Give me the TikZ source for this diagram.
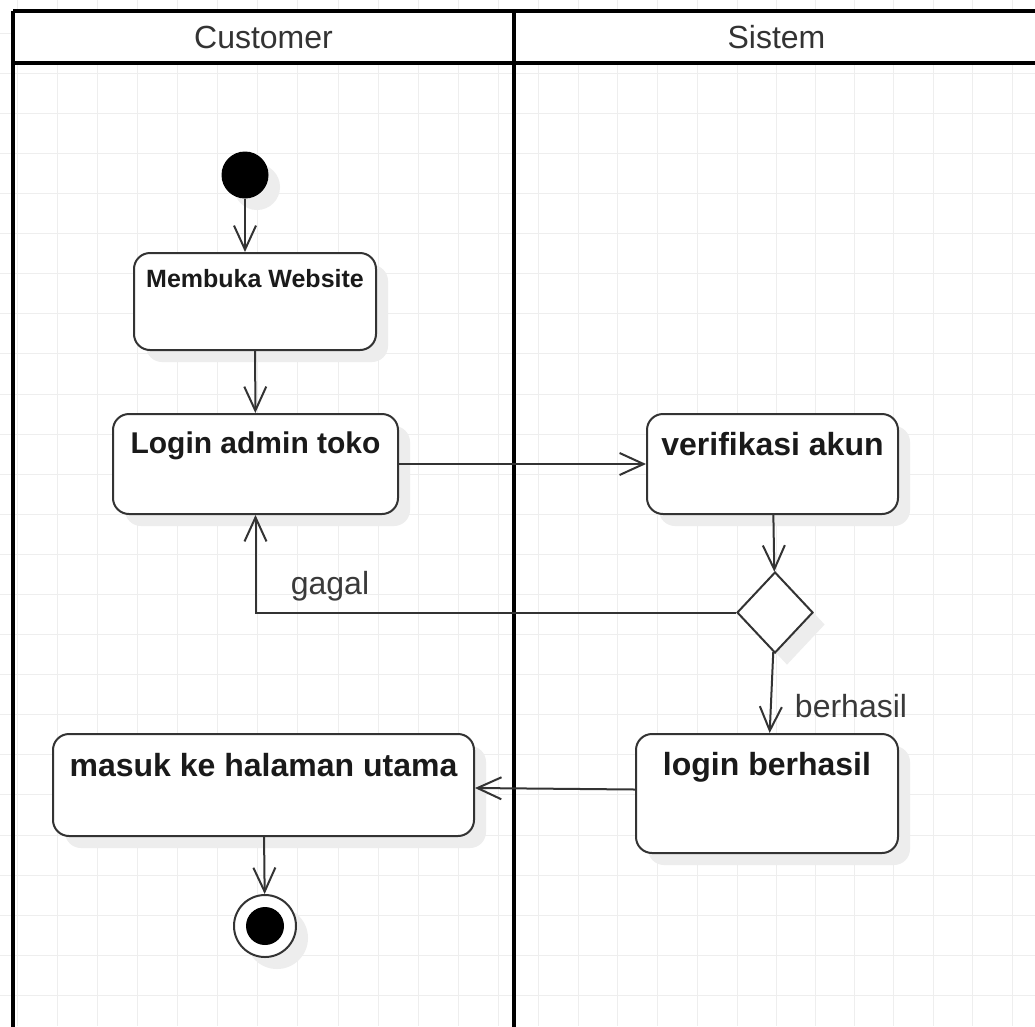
\documentclass[tikz,border=0pt]{standalone}
\usepackage{fontspec}
\setmainfont{Liberation Sans}
\usetikzlibrary{arrows.meta,shapes.geometric,shadows,calc}
\definecolor{ln}{HTML}{333333}
\definecolor{gridc}{HTML}{EEEEEE}
\definecolor{shd}{HTML}{EDEDED}
\definecolor{txt}{HTML}{1A1A1A}
\definecolor{lbl}{HTML}{3A3A3A}
\tikzset{
  shad/.style={drop shadow={shadow xshift=12pt, shadow yshift=-12pt, fill=shd, opacity=1}},
  act/.style={shad, draw=ln, line width=2pt, fill=white, rounded corners=16pt, inner sep=0pt, anchor=north west},
  acttext/.style={text=txt, font=\bfseries\fontsize{32}{38}\selectfont, anchor=base},
  flow/.style={draw=ln, line width=2pt, -{Straight Barb[length=24pt,width=22pt]}},
  pool/.style={draw=black, line width=4pt},
  lanehead/.style={fill=white, draw=none, inner sep=0pt, minimum height=52pt, text=ln, font=\fontsize{32}{38}\selectfont},
  startn/.style={shad, circle, fill=black, draw=black, line width=1pt, minimum size=46pt, inner sep=0pt},
  endo/.style={shad, circle, draw=ln, line width=2pt, fill=white, minimum size=62pt, inner sep=0pt},
  endi/.style={circle, fill=black, minimum size=38pt, inner sep=0pt},
  decn/.style={shad, diamond, draw=ln, line width=2pt, fill=white, minimum width=76pt, minimum height=81pt, inner sep=0pt},
  elbl/.style={text=lbl, font=\fontsize{32}{38}\selectfont, anchor=base, inner sep=0pt}
}
\begin{document}
\begin{tikzpicture}[x=1pt,y=-1pt]
\path[use as bounding box, clip] (0,0) rectangle (1035,1026);
\fill[white] (0,0) rectangle (1035,1026);
% grid
\foreach \gx in {17,57,97,137,177,217,257,297,338,378,418,458,498,538,578,617,657,697,737,776,815,854,893,933,972,1012}
  \draw[gridc, line width=1pt] (\gx,0) -- (\gx,1026);
\foreach \k in {0,...,25}
  \draw[gridc, line width=1pt] (0,{33.2+40.09*\k}) -- (1035,{33.2+40.09*\k});
% swimlane headers
\node[lanehead, minimum width=501pt] (hc) at (263.5,37) {};
\node[lanehead, minimum width=522pt] (hs) at (775,37) {};
\node[text=ln, font=\fontsize{32}{38}\selectfont, anchor=base, inner sep=0pt] (tc) at (263.5,48) {Customer};
\node[text=ln, font=\fontsize{32}{38}\selectfont, anchor=base, inner sep=0pt] (ts) at (776.5,48) {Sistem};
% pool lines
\draw[pool] (13,11) -- (1038,11);
\draw[pool] (13,63) -- (1038,63);
\draw[pool] (13,11) -- (13,1030);
\draw[pool] (514,11) -- (514,1030);
\draw[pool] (1036.6,11) -- (1036.6,1030);
% nodes
\node[startn] (start) at (245,175) {};
\node[act, minimum width=242pt, minimum height=97pt,
  label={[acttext, font=\bfseries\fontsize{25}{30}\selectfont, yshift=-35pt]north:Membuka Website}] (mw) at (133,252) {};
\node[act, minimum width=285pt, minimum height=100pt,
  label={[acttext, font=\bfseries\fontsize{30}{36}\selectfont, yshift=-40pt]north:Login admin toko}] (login) at (112,413) {};
\node[act, minimum width=251pt, minimum height=100pt,
  label={[acttext, yshift=-42pt]north:verifikasi akun}] (verif) at (646,413) {};
\node[decn] (dec) at (775,612.5) {};
\node[act, minimum width=262pt, minimum height=119pt,
  label={[acttext, yshift=-42pt]north:login berhasil}] (lb) at (635,733) {};
\node[act, minimum width=421pt, minimum height=102pt,
  label={[acttext, yshift=-43pt]north:masuk ke halaman utama}] (masuk) at (52,733) {};
\node[endo] (endn) at (265,926) {};
\node[endi] (endin) at (endn) {};
% edge labels
\node[elbl] (lgagal) at (330,594) {gagal};
\node[elbl] (lberhasil) at (851,717) {berhasil};
% connectors
\draw[flow] (start) -- (start |- mw.north);
\draw[flow] (mw) -- (login);
\draw[flow] (login) -- (verif);
\draw[flow] (verif) -- (dec);
\draw[flow] (dec.west) -| (login.south);
\draw[flow] (dec) -- (lb);
\draw[flow] ($(lb.west)+(0,-4)$) -- ($(masuk.east)+(0,3)$);
\draw[flow] (masuk) -- (endn);
\end{tikzpicture}
\end{document}
